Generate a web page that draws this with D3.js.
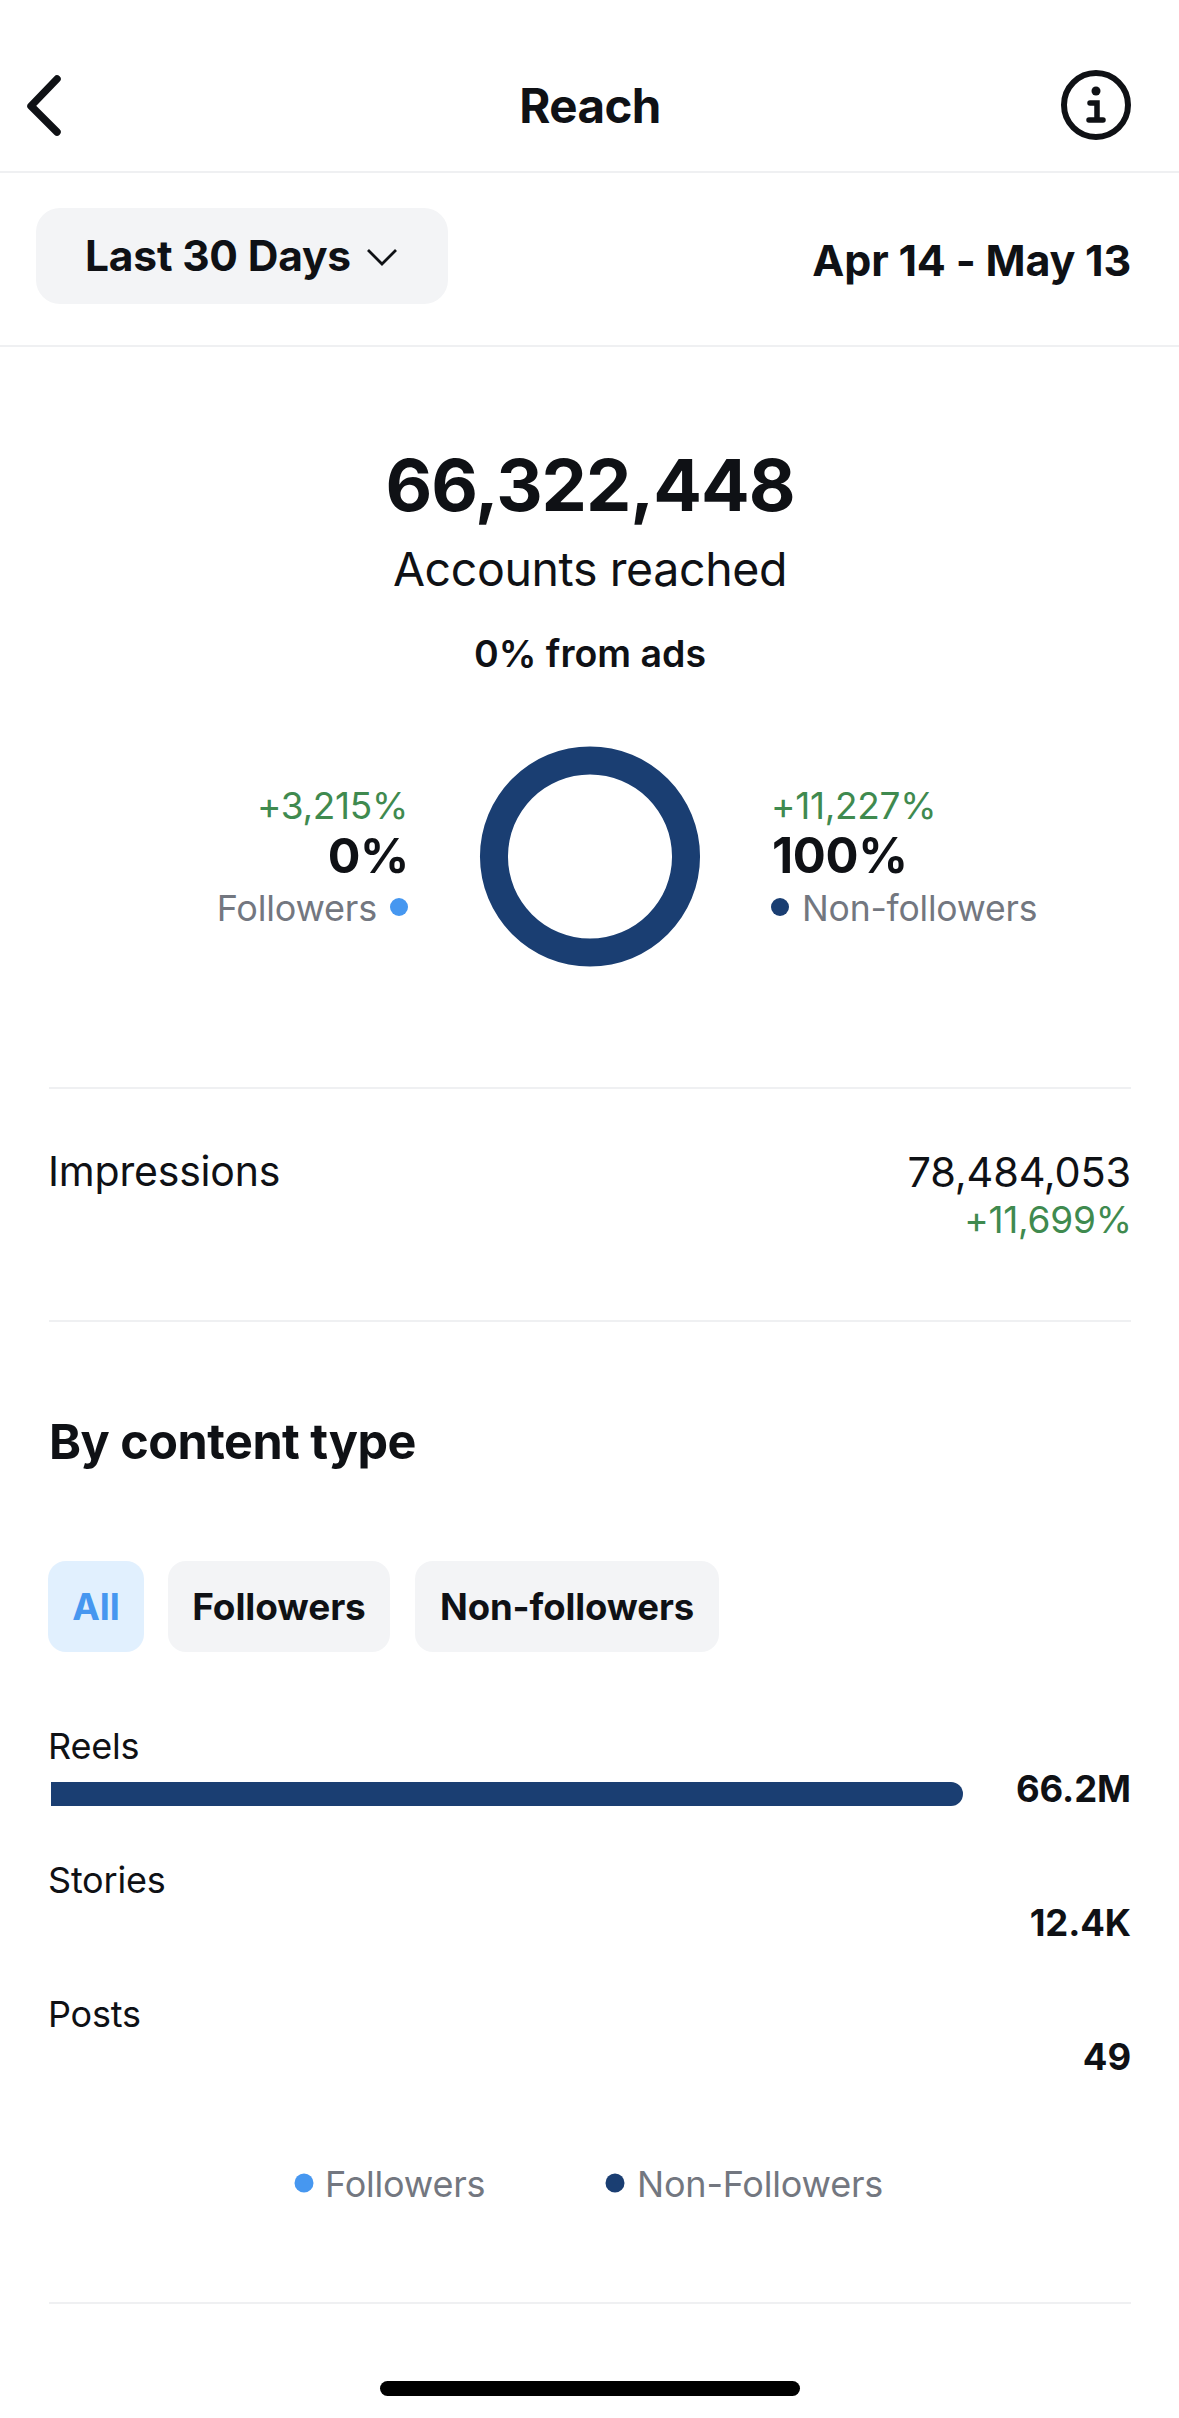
<!DOCTYPE html>
<html><head><meta charset="utf-8">
<script src="https://cdn.jsdelivr.net/npm/d3@7"></script>
<style>
html,body{margin:0;padding:0;background:#fff}
svg{display:block}
text{font-family:Inter,"Noto Sans",sans-serif}
</style></head><body>
<script>
// Data
const audienceLabels = ["Followers", "Non-followers"];
const audienceShares = [0, 100];
const audienceChanges = ["+3,215%", "+11,227%"];
const contentTypes = ["Reels", "Stories", "Posts"];
const contentValues = [66200000, 12400, 49];
const contentValueLabels = ["66.2M", "12.4K", "49"];
const filterLabels = ["All", "Followers", "Non-followers"];
const legendLabels = ["Followers", "Non-Followers"];

const INK = "#0f1115", GREY = "#737780", GREEN = "#3f8a4f", NAVY = "#1a3e72", BLUE = "#4697f0", RULE = "#eff0f2", PILL = "#f3f4f6";
const colour = d3.scaleOrdinal().domain(audienceLabels).range([BLUE, NAVY]);

const svg = d3.select("body").append("svg").attr("width", 1179).attr("height", 2418).attr("viewBox", "0 0 1179 2418");
function T(s, x, y, size, weight, fill, anchor, ls) {
  return svg.append("text").attr("x", x).attr("y", y).attr("font-size", size).attr("font-weight", weight)
    .attr("fill", fill).attr("text-anchor", anchor || "start").attr("letter-spacing", ls || 0).text(s);
}
function rule(y, x0, x1) {
  svg.append("rect").attr("x", x0).attr("y", y - 1).attr("width", x1 - x0).attr("height", 2).attr("fill", RULE);
}

// Header
svg.append("path").attr("d", "M57 79 L31 106 L57 132").attr("fill", "none").attr("stroke", INK).attr("stroke-width", 7.5).attr("stroke-linecap", "round").attr("stroke-linejoin", "round");
T("Reach", 590, 123, 47.5, 700, INK, "middle", -0.6);
svg.append("circle").attr("cx", 1096).attr("cy", 105).attr("r", 32).attr("fill", "none").attr("stroke", INK).attr("stroke-width", 6);
svg.append("circle").attr("cx", 1096).attr("cy", 91).attr("r", 4.5).attr("fill", INK);
svg.append("path").attr("d", "M1090 103 H1097 V119 M1089 120 H1103").attr("fill", "none").attr("stroke", INK).attr("stroke-width", 5.5).attr("stroke-linecap", "round");
rule(172, 0, 1179);

// Range control
svg.append("rect").attr("x", 36).attr("y", 208).attr("width", 412).attr("height", 96).attr("rx", 24).attr("fill", PILL);
T("Last 30 Days", 85, 271, 42.5, 700, INK, "start", -0.2);
svg.append("path").attr("d", "M368 250 L382 264 L396 250").attr("fill", "none").attr("stroke", INK).attr("stroke-width", 2.8);
T("Apr 14 - May 13", 1131, 276, 43, 700, INK, "end", -0.2);
rule(346, 0, 1179);

// Headline
T("66,322,448", 590, 511, 72, 700, INK, "middle", -1);
T("Accounts reached", 590, 586, 46.5, 400, INK, "middle", -0.4);
T("0% from ads", 590, 667, 37.5, 600, INK, "middle", 0);

// Donut
const pie = d3.pie().sort(null).value(d => d.share);
const arc = d3.arc().innerRadius(82).outerRadius(110);
const slices = pie(audienceLabels.map((label, i) => ({label, share: audienceShares[i]})));
svg.append("g").attr("transform", "translate(590,856.5)").selectAll("path").data(slices).join("path")
  .attr("d", arc).attr("fill", d => colour(d.data.label));

T(audienceChanges[0], 408, 819, 37, 400, GREEN, "end", -0.3);
T(audienceShares[0] + "%", 409, 873, 48.5, 700, INK, "end", -0.3);
T(audienceLabels[0], 377, 921, 36, 400, GREY, "end", -0.2);
svg.append("circle").attr("cx", 399).attr("cy", 907).attr("r", 9).attr("fill", colour(audienceLabels[0]));
T(audienceChanges[1], 771, 819, 37, 400, GREEN, "start", -0.3);
T(audienceShares[1] + "%", 772, 873, 49, 700, INK, "start", -0.3);
T(audienceLabels[1], 802, 921, 35.5, 400, GREY, "start", -0.2);
svg.append("circle").attr("cx", 780).attr("cy", 907).attr("r", 9).attr("fill", colour(audienceLabels[1]));
rule(1088, 49, 1131);

// Impressions
T("Impressions", 48, 1186, 41, 400, INK, "start", -0.2);
T("78,484,053", 1131, 1187, 41.5, 400, INK, "end", -0.2);
T("+11,699%", 1132, 1233, 37, 400, GREEN, "end", -0.2);
rule(1321, 49, 1131);

// By content type
T("By content type", 49, 1459, 48.5, 700, INK, "start", -0.5);
const pillBoxes = [[48, 144], [168, 390], [415, 719]];
filterLabels.forEach((label, i) => {
  const [a, b] = pillBoxes[i];
  svg.append("rect").attr("x", a).attr("y", 1561).attr("width", b - a).attr("height", 91).attr("rx", 18).attr("fill", i === 0 ? "#e1f0fe" : PILL);
  T(label, (a + b) / 2, 1620, i === 2 ? 36.5 : 37, 700, i === 0 ? BLUE : INK, "middle", -0.1);
});

const x = d3.scaleLinear().domain([0, contentValues[0]]).range([51, 963]);
const y = d3.scalePoint().domain(contentTypes).range([1782, 2050]);
contentTypes.forEach((c, i) => {
  const top = y(c), w = x(contentValues[i]) - x(0), r = Math.min(12, w);
  T(c, 48, top - 23, 36, 400, INK, "start", -0.2);
  T(contentValueLabels[i], 1131, top + 20, 36.5, 700, INK, "end", -0.1);
  svg.append("path").attr("fill", NAVY).attr("shape-rendering", w < 1 ? "crispEdges" : "auto")
    .attr("d", `M${x(0)} ${top} H${x(0) + w - r} A${r} 12 0 0 1 ${x(0) + w - r} ${top + 24} H${x(0)} Z`);
});

// Legend
[[304, 325], [615, 637]].forEach(([cx, tx], i) => {
  svg.append("circle").attr("cx", cx).attr("cy", 2183).attr("r", 9.5).attr("fill", colour(audienceLabels[i]));
  T(legendLabels[i], tx, 2197, 36, 400, GREY, "start", -0.2);
});
rule(2303, 49, 1131);

// Home indicator
svg.append("rect").attr("x", 380).attr("y", 2381).attr("width", 420).attr("height", 15).attr("rx", 7.5).attr("fill", "#000");
</script>
</body></html>
